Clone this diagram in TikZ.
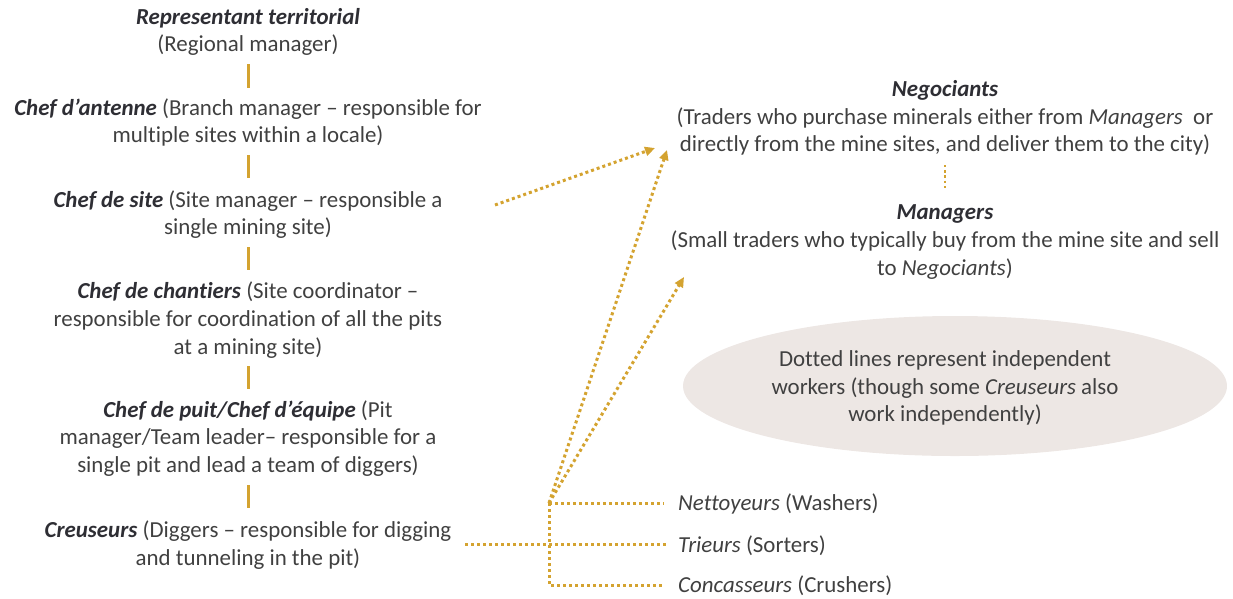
\documentclass[tikz,border=0pt]{standalone}
\usepackage{fontspec}
\setmainfont{Carlito}[Ligatures=NoCommon]
\usetikzlibrary{arrows.meta,calc,shapes.geometric}
\definecolor{gold}{RGB}{212,163,48}
\definecolor{txt}{RGB}{64,64,64}
\definecolor{namec}{RGB}{46,46,52}
\definecolor{ellfill}{RGB}{237,231,228}
\newcommand\rolename[1]{\textcolor{namec}{\textbf{\textit{#1}}}}
\begin{document}
\begin{tikzpicture}[x=1pt,y=-1pt,
  every node/.style={font=\fontsize{22.9}{27.6}\selectfont, text=txt, align=center, inner sep=0pt},
  solidlink/.style={draw=gold, line width=3pt},
  dotlink/.style={draw=gold, line width=3pt, dash pattern=on 3pt off 3pt},
  dotarrow/.style={dotlink, -{Triangle[length=10pt,width=9pt]}},
  noteshape/.style={ellipse, fill=ellfill, minimum width=544pt, minimum height=140pt},
]
\useasboundingbox (0,0) rectangle (1233,598);

% left hierarchy
\node (rep) at (248,32) {\rolename{Representant territorial}\\(Regional manager)};
\node (ant) at (248,122.5) {\rolename{Chef d’antenne} (Branch manager – responsible for\\multiple sites within a locale)};
\node (site) at (248,214.5) {\rolename{Chef de site} (Site manager – responsible a\\single mining site)};
\node (chant) at (248,320) {\rolename{Chef de chantiers} (Site coordinator –\\responsible for coordination of all the pits\\at a mining site)};
\node (puit) at (248,438.5) {\rolename{Chef de puit/Chef d’équipe} (Pit\\manager/Team leader– responsible for a\\single pit and lead a team of diggers)};
\node (creus) at (248,545) {\rolename{Creuseurs} (Diggers – responsible for digging\\and tunneling in the pit)};

\draw[solidlink] ($(rep.center)+(0,32)$) -- ($(ant.center)+(0,-34.5)$);
\draw[solidlink] ($(ant.center)+(0,32.5)$) -- ($(site.center)+(0,-36.5)$);
\draw[solidlink] ($(site.center)+(0,32.5)$) -- ($(chant.center)+(0,-50)$);
\draw[solidlink] ($(chant.center)+(0,46)$) -- ($(puit.center)+(0,-49.5)$);
\draw[solidlink] ($(puit.center)+(0,46.5)$) -- ($(creus.center)+(0,-37)$);

% right side
\node (neg) at (945,118) {\rolename{Negociants}\\(Traders who purchase minerals either from \textit{Managers}\ \ or\\directly from the mine sites, and deliver them to the city)};
\node (man) at (945,242) {\rolename{Managers}\\(Small traders who typically buy from the mine site and sell\\to \textit{Negociants})};
\draw[dotlink, line width=2.4pt, dash pattern=on 2.4pt off 2.8pt] ($(neg.center)+(0,47)$) -- ($(man.center)+(0,-54)$);

\node[noteshape] (ell) at (955,386) {};
\node (note) at ($(ell.center)+(-10,2)$) {Dotted lines represent independent\\workers (though some \textit{Creuseurs} also\\work independently)};

% workers
\node[anchor=west] (nett) at (678,504) {\textit{Nettoyeurs} (Washers)};
\node[anchor=west] (trie) at (678,546) {\textit{Trieurs} (Sorters)};
\node[anchor=west] (conc) at (678,586) {\textit{Concasseurs} (Crushers)};

\coordinate (J) at (549,503);
\coordinate (cstart) at (465,544);
\coordinate (sstart) at (495,205);
\coordinate (tipA) at (655,148);
\coordinate (tipB) at (667,150);
\coordinate (tipC) at (684,277);

\draw[dotlink, shorten >=14pt] (J) -- (J -| nett.west);
\draw[dotlink, shorten >=12pt] (cstart) -- (cstart -| trie.west);
\draw[dotlink, shorten >=14pt] (J) -- ($(J |- conc.west)+(0,-1)$) -- ($(conc.west)+(0,-1)$);
\draw[dotarrow] (sstart) -- (tipA);
\draw[dotarrow] (J) -- (tipB);
\draw[dotarrow] (J) -- (tipC);
\end{tikzpicture}
\end{document}
